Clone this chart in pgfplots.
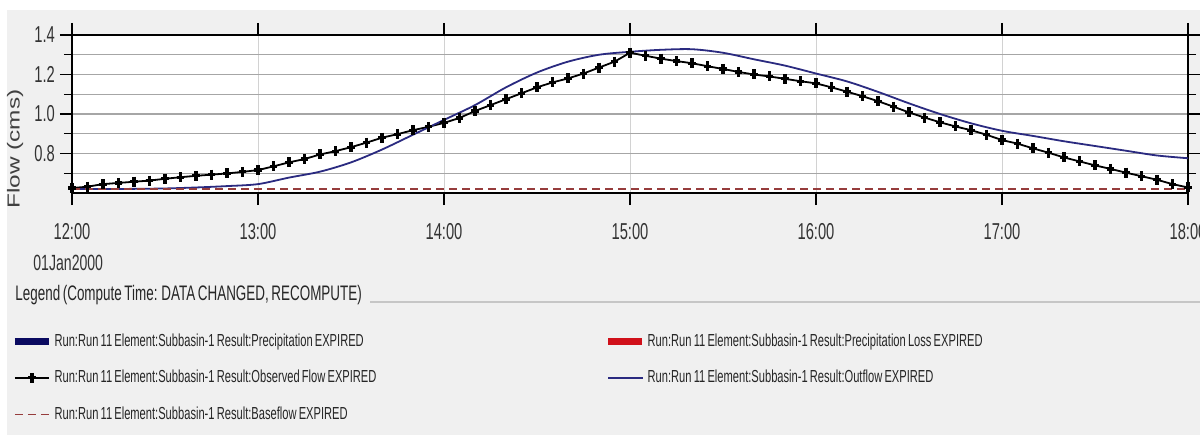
\documentclass[border=0pt]{standalone}
\usepackage{fontspec}
\setmainfont{Liberation Sans}
\newfontfamily\cf[FakeStretch=0.64, WordSpace=0.7]{Liberation Sans}
\newfontfamily\yf[FakeStretch=1.4]{Liberation Sans}
\usepackage{pgfplots}
\pgfplotsset{compat=1.18}
\usepackage{pgfplotstable}
\definecolor{bgc}{HTML}{F0F0F0}
\definecolor{outc}{HTML}{2A2A80}
\definecolor{basec}{RGB}{150,60,60}
\definecolor{precc}{HTML}{0A0A60}
\definecolor{lossc}{HTML}{D0101A}
\newcommand\lgd[1]{\makebox[274pt][l]{\frenchspacing #1}}

\pgfplotstableread{
t v
0 0.625
5 0.632
10 0.645
15 0.651
20 0.657
25 0.663
30 0.672
35 0.680
40 0.687
45 0.693
50 0.699
55 0.707
60 0.716
65 0.735
70 0.755
75 0.772
80 0.795
85 0.812
90 0.832
95 0.855
100 0.880
105 0.898
110 0.918
115 0.935
120 0.955
125 0.980
130 1.015
135 1.045
140 1.075
145 1.105
150 1.135
155 1.160
160 1.180
165 1.205
170 1.235
175 1.265
180 1.310
185 1.295
190 1.280
195 1.268
200 1.257
205 1.242
210 1.228
215 1.213
220 1.200
225 1.190
230 1.178
235 1.166
240 1.155
245 1.135
250 1.113
255 1.090
260 1.065
265 1.037
270 1.008
275 0.982
280 0.958
285 0.937
290 0.918
295 0.895
300 0.868
305 0.850
310 0.826
315 0.804
320 0.780
325 0.760
330 0.740
335 0.722
340 0.703
345 0.685
350 0.667
355 0.645
360 0.628
}\observed

\pgfplotstableread{
t v
0 0.620
10 0.620
20 0.621
30 0.623
40 0.628
50 0.635
60 0.645
70 0.678
80 0.708
90 0.755
100 0.820
110 0.895
120 0.970
130 1.045
140 1.135
150 1.210
160 1.265
170 1.300
180 1.315
190 1.325
200 1.328
210 1.310
220 1.277
230 1.245
240 1.205
250 1.165
260 1.112
270 1.054
280 1.000
290 0.953
300 0.915
310 0.889
320 0.862
330 0.838
340 0.814
350 0.790
360 0.776
}\outflow

\pgfplotstableread{
t v
0 0.62
360 0.62
}\baseflow

\begin{document}
\begin{tikzpicture}
\useasboundingbox (0,0) rectangle (600pt,217.5pt);
\fill[white] (0,0) rectangle (600pt,217.5pt);
\fill[bgc] (3.5pt,0) rectangle (600pt,212.5pt);
\begin{axis}[
  at={(36pt,121pt)}, anchor=south west,
  width=558pt, height=79pt, scale only axis,
  xmin=0, xmax=360, ymin=0.6, ymax=1.4,
  axis background/.style={fill=white},
  axis line style={black, line width=0.9pt},
  xtick={0,60,120,180,240,300,360},
  xticklabels={12:00,13:00,14:00,15:00,16:00,17:00,18:00},
  ytick={0.8,1.0,1.2,1.4},
  minor ytick={0.7,0.9,1.1,1.3},
  /pgf/number format/fixed,
  /pgf/number format/fixed zerofill,
  /pgf/number format/precision=1,
  /pgf/number format/assume math mode=true,
  tick align=outside,
  major tick length=6pt, minor tick length=4pt,
  tick style={black, line width=0.6pt},
  xmajorgrids, ymajorgrids, yminorgrids,
  x grid style={gray!35, line width=0.5pt},
  y grid style={gray!70, line width=0.6pt},
  minor y grid style={gray!70, line width=0.6pt},
  ticklabel style={font=\cf\fontsize{11.5}{13}\selectfont, text=black!80},
  xticklabel style={yshift=-5.5pt},
  yticklabel style={xshift=1pt},
  legend columns=2,
  legend style={
    at={(-33.5pt,-67pt)}, anchor=north west,
    draw=none, fill=none,
    font=\cf\fontsize{8.7}{10}\selectfont,
    text=black!85,
    row sep=8.5pt,
    nodes={inner sep=1pt, anchor=west},
  },
]
\addlegendimage{precc, line width=3.5pt}
\addlegendentry{\lgd{Run:Run 11 Element:Subbasin-1 Result:Precipitation EXPIRED}}
\addlegendimage{lossc, line width=3.5pt}
\addlegendentry{\lgd{Run:Run 11 Element:Subbasin-1 Result:Precipitation Loss EXPIRED}}
\addplot[black, line width=0.9pt, mark=+, mark size=2.5pt, mark options={xscale=0.75, line width=1.6pt}] table[x=t,y=v] {\observed};
\addlegendentry{\lgd{Run:Run 11 Element:Subbasin-1 Result:Observed Flow EXPIRED}}
\addplot[outc, line width=0.9pt, smooth] table[x=t,y=v] {\outflow};
\addlegendentry{\lgd{Run:Run 11 Element:Subbasin-1 Result:Outflow EXPIRED}}
\addplot[basec, line width=0.9pt, dash pattern=on 4pt off 2.5pt] table[x=t,y=v] {\baseflow};
\addlegendentry{\lgd{Run:Run 11 Element:Subbasin-1 Result:Baseflow EXPIRED}}
\end{axis}
\node[rotate=90, font=\yf\fontsize{8.7}{10}\selectfont, text=black!75] at (7.5pt,143pt) {Flow (cms)};
\node[anchor=west, inner sep=0pt, font=\cf\fontsize{11}{12}\selectfont, text=black!80] at (16.5pt,86pt) {01Jan2000};
\node[anchor=west, inner sep=0pt, font=\cf\fontsize{10.5}{12}\selectfont, text=black!85] at (7.5pt,70pt) {Legend (Compute Time: DATA CHANGED, RECOMPUTE)};
\draw[gray!45, line width=0.7pt] (185pt,66.5pt) -- (600pt,66.5pt);
\end{tikzpicture}
\end{document}
